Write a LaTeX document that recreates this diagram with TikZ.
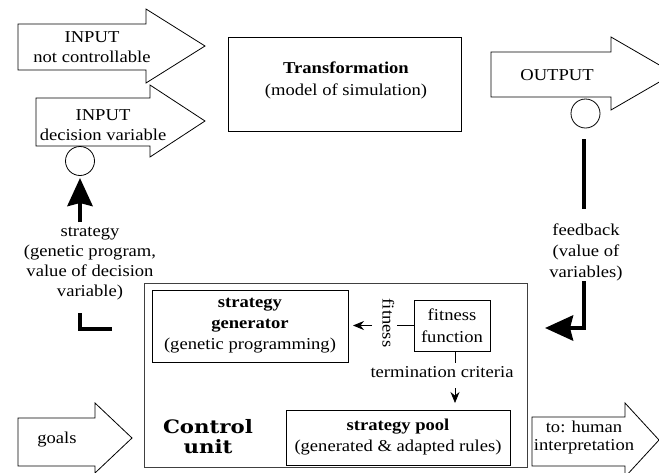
\documentclass[tikz,border=0pt]{standalone}
\usepackage{fontspec}
\setmainfont{Liberation Serif}[FakeStretch=1.12]
\newfontfamily\cufont{DejaVu Serif}[FakeStretch=1.15]
\usetikzlibrary{arrows.meta,calc}
\begin{document}
\begin{tikzpicture}[x=1pt,y=-1pt, font=\fontsize{16.6}{20}\selectfont,
  box/.style={draw, line width=0.8pt, inner sep=0pt, align=center},
  bigarrow/.style={draw, line width=0.8pt},
  txt/.style={inner sep=0pt, align=center},
  thickline/.style={line width=4.5pt},
  bighead/.style={-{Stealth[length=28pt,width=25pt,inset=3pt]}},
  smallhead/.style={-{Stealth[length=11pt,width=9pt]}},
  thin/.style={line width=0.8pt},
  ring/.style={draw, circle, line width=0.8pt, minimum size=29pt, inner sep=0pt}
]
\useasboundingbox (0,0) rectangle (659,472);
\clip (0,0) rectangle (659,472);

% input arrows
\draw[bigarrow] (18,24) -- (146,24) -- (146,9) -- (205,46) -- (146,83) -- (146,70) -- (18,70) -- cycle;
\node[txt] (in1) at (92,47.5) {INPUT\\not controllable};
\draw[bigarrow] (36,98) -- (150,98) -- (150,85) -- (205,121) -- (150,157) -- (150,146) -- (36,146) -- cycle;
\node[txt] (in2) at (103,125) {INPUT\\decision variable};
\node[ring] (c1) at (80,161) {};

% transformation
\node[box, minimum width=233pt, minimum height=94pt] (tr) at (344.5,84) {};
\node[txt, font=\fontsize{16.6}{22}\selectfont] (trtext) at (346,80) {\textbf{Transformation}\\(model of simulation)};

% output
\draw[bigarrow] (491,52) -- (611,52) -- (611,37) -- (674,73.5) -- (611,110) -- (611,97) -- (491,97) -- cycle;
\node[txt] (out) at (557,75) {OUTPUT};
\node[ring] (c2) at (585.5,113.5) {};

% feedback
\coordinate (fb1) at (584,139);
\coordinate (fb2) at (584,209);
\node[txt, font=\fontsize{16.6}{21}\selectfont] (fbl) at (586,252) {feedback\\(value of\\variables)};
\coordinate (fb3) at (584,281);
\coordinate (fbend) at (545,328);
\draw[thickline] (fb1) -- (fb2);
\draw[thickline, bighead] (fb3) |- (fbend);

% control unit
\node[box, draw=black!75, minimum width=383pt, minimum height=184pt] (cu) at (335.5,375) {};
\node[box, minimum width=196pt, minimum height=72pt, font=\fontsize{16.6}{21}\selectfont] (sg) at (250,326) {\textbf{strategy}\\\textbf{generator}\\(genetic programming)};
\node[box, minimum width=76pt, minimum height=51pt, font=\fontsize{16.6}{22}\selectfont] (ff) at (452,325.5) {fitness\\function};
\node[box, minimum width=224pt, minimum height=55pt, font=\fontsize{16.6}{21}\selectfont] (sp) at (398,437.5) {\textbf{strategy pool}\\(generated \& adapted rules)};
\node[txt, font=\cufont\bfseries\fontsize{18.5}{20.5}\selectfont] (cul) at (208,436.5) {Control\\unit};

% fitness connector
\coordinate (fa1) at (397,325.5);
\coordinate (fa2) at (372,325.5);
\coordinate (fa3) at (353,325.5);
\draw[thin] (ff.west) -- (fa1);
\draw[thin, smallhead] (fa2) -- (fa3);
\node[txt, rotate=-90] (fl) at (388.5,323) {fitness};

% termination connector
\coordinate (ta1) at (455,363);
\coordinate (ta2) at (455,388);
\coordinate (ta3) at (455,403);
\draw[thin] (ff.south -| ta1) -- (ta1);
\draw[thin, smallhead] (ta2) -- (ta3);
\node[txt] (tl) at (442,372) {termination criteria};

% strategy
\coordinate (st1) at (112,329);
\coordinate (st2) at (80,329);
\coordinate (st3) at (80,313);
\coordinate (st4) at (80,222);
\coordinate (st5) at (80,178);
\draw[thickline] (st1) -- (st2) -- (st3);
\draw[thickline, bighead] (st4) -- (st5);
\node[txt] (stl) at (90,264) {strategy\\(genetic program,\\value of decision\\variable)};

% goals
\draw[bigarrow] (18,418) -- (95,418) -- (95,403) -- (132,438) -- (95,473) -- (95,466) -- (18,466) -- cycle;
\node[txt] (goals) at (57,440) {goals};

% human interpretation
\draw[bigarrow] (532,417) -- (625,417) -- (625,403) -- (659,440) -- (625,477) -- (625,466) -- (532,466) -- cycle;
\node[txt, font=\fontsize{16.6}{18}\selectfont] (hum) at (584,437.5) {to: human\\interpretation};
\end{tikzpicture}
\end{document}
